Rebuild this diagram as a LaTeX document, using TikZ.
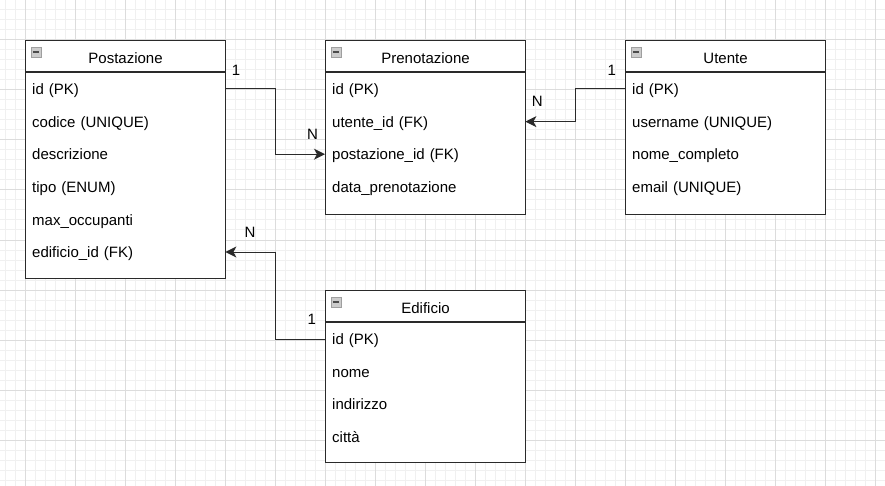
\documentclass[tikz,border=0pt]{standalone}
\usepackage{fontspec}
\setmainfont{Liberation Sans}
\usetikzlibrary{arrows.meta}

\definecolor{gridminor}{HTML}{F0F0F0}
\definecolor{gridmajor}{HTML}{DCDCDC}
\definecolor{edgegray}{HTML}{2A2A2A}

\tikzset{
  table/.style={draw=edgegray, line width=1.1pt, fill=white, anchor=north west,
    minimum width=200pt, inner sep=0pt},
  title/.style={font=\fontsize{15}{18}\selectfont, inner sep=0pt,
    text height=13pt, text depth=1.5pt},
  row/.style={anchor=west, font=\fontsize{15}{18}\selectfont, text width=186pt,
    align=left, inner xsep=7pt, inner ysep=0pt, text height=13pt, text depth=1.5pt},
  icon/.style={fill=gray!40, draw=gray!75, line width=0.8pt},
  card/.style={font=\fontsize{15}{18}\selectfont, inner sep=0pt},
  rel/.style={draw=edgegray, line width=1pt,
    -{Stealth[length=11pt,width=11pt,inset=3pt]}},
}

\begin{document}
\begin{tikzpicture}[x=1pt, y=-1pt]
  \useasboundingbox (0,0) rectangle (885,486);
  % grid background
  \fill[white] (0,0) rectangle (885,486);
  \foreach \x in {5,15,...,885} \draw[gridminor, line width=1pt] (\x,0) -- (\x,486);
  \foreach \y in {0,10,...,480} \draw[gridminor, line width=1pt] (0,\y) -- (885,\y);
  \foreach \x in {25,75,...,875} \draw[gridmajor, line width=1pt] (\x,0) -- (\x,486);
  \foreach \y in {40,90,...,440} \draw[gridmajor, line width=1pt] (0,\y) -- (885,\y);

  % tables
  \node[table, minimum height=238pt] (postazione)   at (25,40)  {};
  \node[table, minimum height=174pt] (prenotazione) at (325,40) {};
  \node[table, minimum height=174pt] (utente)       at (625,40) {};
  \node[table, minimum height=172pt] (edificio)     at (325,290) {};

  \foreach \t in {postazione,prenotazione,utente,edificio} {
    \draw[edgegray, line width=1.1pt] ([yshift=-32pt]\t.north west) -- ([yshift=-32pt]\t.north east);
    \draw[icon] ([shift={(6pt,-7pt)}]\t.north west) rectangle ++(10,10);
    \draw[black!70, line width=1.2pt] ([shift={(8pt,-12pt)}]\t.north west) -- ++(6,0);
  }

  \node[title] at ([yshift=-18pt]postazione.north)   {Postazione};
  \node[title] at ([yshift=-18pt]prenotazione.north) {Prenotazione};
  \node[title] at ([yshift=-18pt]utente.north)       {Utente};
  \node[title] at ([yshift=-18pt]edificio.north)     {Edificio};

  % fields
  \foreach \r [count=\i] in {id (PK), codice (UNIQUE), descrizione, tipo (ENUM),
      max\_occupanti, edificio\_id (FK)}
    \node[row] (post-\i) at ([yshift={-(49+(\i-1)*32.6)*1pt}]postazione.north west) {\r};
  \foreach \r [count=\i] in {id (PK), utente\_id (FK), postazione\_id (FK), data\_prenotazione}
    \node[row] (pren-\i) at ([yshift={-(49+(\i-1)*32.6)*1pt}]prenotazione.north west) {\r};
  \foreach \r [count=\i] in {id (PK), username (UNIQUE), nome\_completo, email (UNIQUE)}
    \node[row] (ute-\i) at ([yshift={-(49+(\i-1)*32.6)*1pt}]utente.north west) {\r};
  \foreach \r [count=\i] in {id (PK), nome, indirizzo, città}
    \node[row] (edi-\i) at ([yshift={-(49+(\i-1)*32.6)*1pt}]edificio.north west) {\r};

  % relations
  \draw[rel] (post-1.east) -- ++(50,0) |- (pren-3.west);
  \draw[rel] (ute-1.west) -- ++(-50,0) |- (pren-2.east);
  \draw[rel] (edi-1.west) -- ++(-50,0) |- (post-6.east);

  \node[card] (c-post) at (236,70.5)   {1};
  \node[card] (n-pren) at (312.5,134.5) {N};
  \node[card] (c-ute)  at (611.7,70.3) {1};
  \node[card] (n-ute)  at (537.3,101.5) {N};
  \node[card] (n-post) at (250,232)    {N};
  \node[card] (c-edi)  at (311.7,319.7) {1};
\end{tikzpicture}
\end{document}
